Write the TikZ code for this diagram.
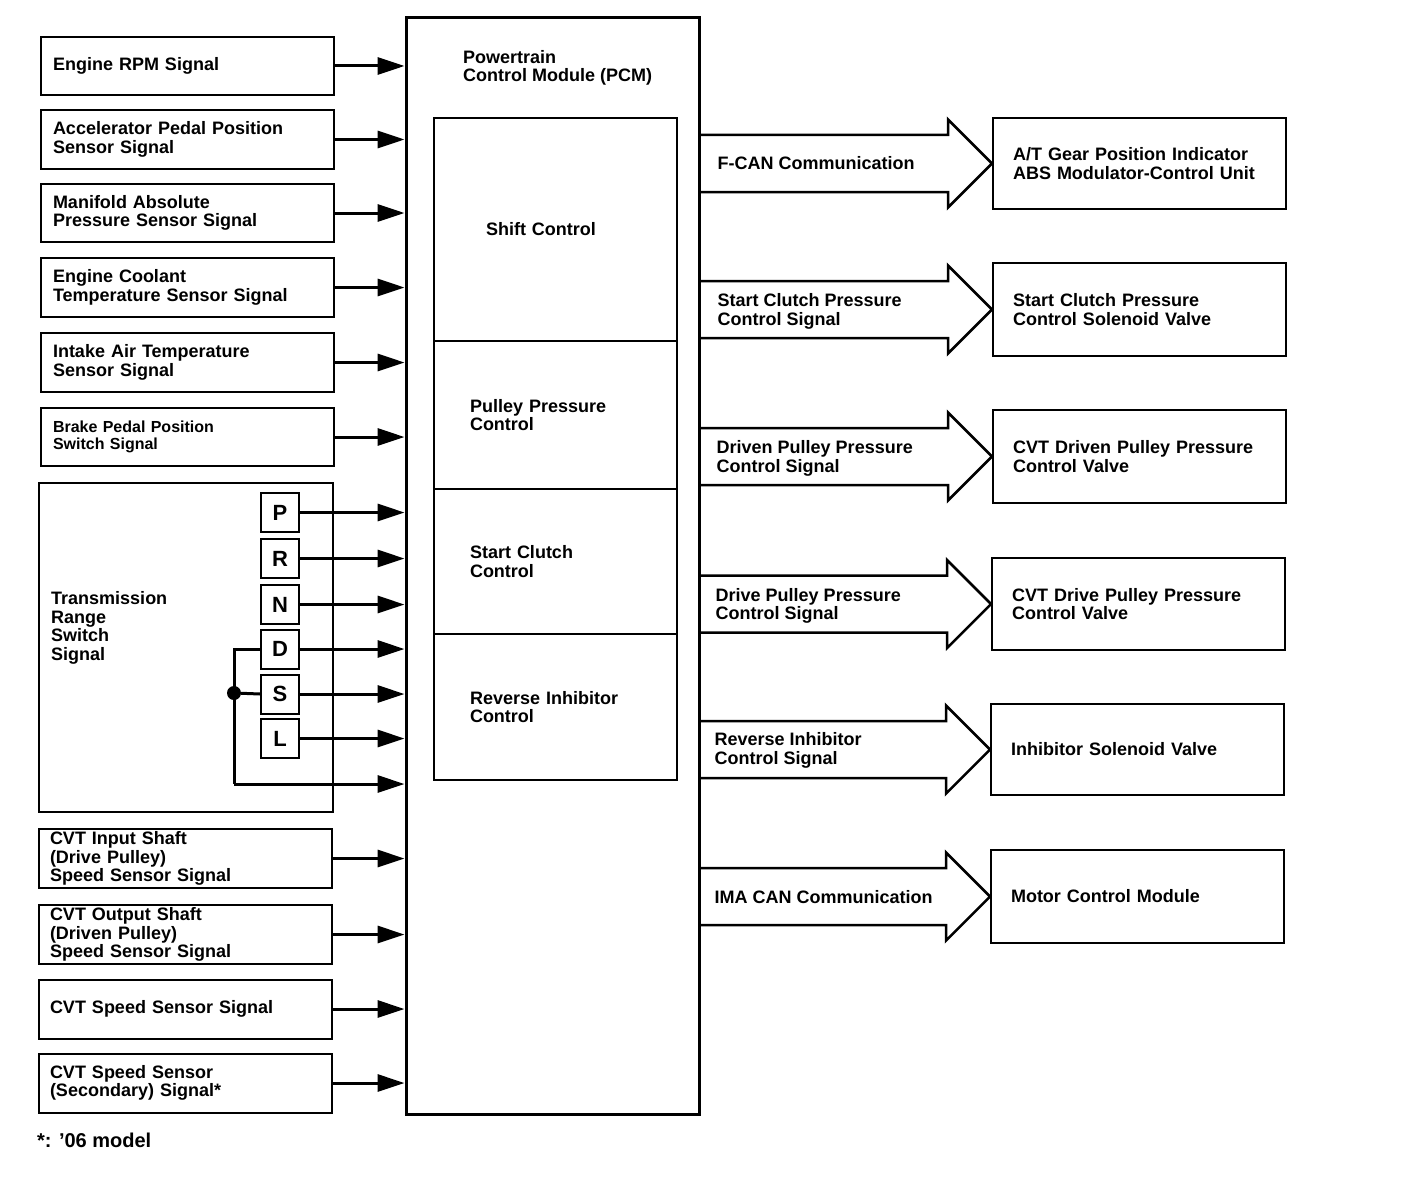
\documentclass[tikz,border=0pt]{standalone}
\usepackage{fontspec}
\setmainfont{Liberation Sans}
\usetikzlibrary{arrows.meta,calc}
\newcommand\blkarrow[1]{%
  \draw[blk] ($(pcm.east |- #1.west)+(0,-28.5)$) -- ($(#1.west)+(-44,-28.5)$)
    -- ($(#1.west)+(-44,-44)$) -- (#1.west) -- ($(#1.west)+(-44,44)$)
    -- ($(#1.west)+(-44,28.5)$) -- ($(pcm.east |- #1.west)+(0,28.5)$);}
\begin{document}
\begin{tikzpicture}[x=1pt,y=-1pt,
  font=\fontsize{18}{18.5}\selectfont\bfseries,
  box/.style={draw, line width=2pt, rectangle, inner ysep=0pt},
  lbox/.style={box, minimum width=293pt, minimum height=58pt, text width=269pt, inner xsep=12pt, align=left},
  cbox/.style={box, minimum width=293pt, minimum height=59pt, text width=271pt, inner xsep=11pt, align=left},
  rbox/.style={box, minimum width=293pt, minimum height=92pt, text width=253pt, inner xsep=20pt, align=left},
  sec/.style={box, minimum width=243pt, text width=171pt, inner xsep=36pt, align=left},
  lett/.style={box, minimum width=38pt, minimum height=39pt, inner sep=0pt, font=\fontsize{22}{22}\selectfont\bfseries},
  sig/.style={line width=3pt, -{Triangle[length=27pt,width=17pt]}},
  sigline/.style={line width=3pt},
  blk/.style={line width=2.5pt, line join=miter},
  txt/.style={anchor=west, inner sep=0pt, align=left, yshift=-2pt}
]
\useasboundingbox[fill=white] (0,0) rectangle (1408,1180);

% PCM
\node[box, line width=3pt, minimum width=293pt, minimum height=1096pt] (pcm) at (552.5,566) {};
\node[txt] (pcmt) at (463,66) {Powertrain\\Control Module (PCM)};
\node[sec, minimum height=223pt, text width=139pt, inner xsep=52pt] (sc) at (555.5,229.5) {Shift Control};
\node[sec, minimum height=148pt] (pp) at (555.5,415) {Pulley Pressure\\Control};
\node[sec, minimum height=145pt] (st) at (555.5,561.5) {Start Clutch\\Control};
\node[sec, minimum height=146pt] (ri) at (555.5,707) {Reverse Inhibitor\\Control};

% left inputs
\node[lbox] (in1) at (187.5,66) {Engine RPM Signal};
\node[lbox] (in2) at (187.5,139.5) {Accelerator Pedal Position\\Sensor Signal};
\node[lbox] (in3) at (187.5,213) {Manifold Absolute\\Pressure Sensor Signal};
\node[lbox, minimum height=59pt] (in4) at (187.5,287.5) {Engine Coolant\\Temperature Sensor Signal};
\node[lbox, minimum height=59pt] (in5) at (187.5,362.5) {Intake Air Temperature\\Sensor Signal};
\node[lbox, font=\fontsize{16}{17}\selectfont\bfseries] (in6) at (187.5,437) {Brake Pedal Position\\Switch Signal};
\node[cbox] (in8) at (185.5,858.5) {CVT Input Shaft\\(Drive Pulley)\\Speed Sensor Signal};
\node[cbox] (in9) at (185.5,934.5) {CVT Output Shaft\\(Driven Pulley)\\Speed Sensor Signal};
\node[cbox] (in10) at (185.5,1009) {CVT Speed Sensor Signal};
\node[cbox] (in11) at (185.5,1083) {CVT Speed Sensor\\(Secondary) Signal*};
\node[txt, font=\fontsize{20}{20}\selectfont\bfseries] (fn) at (37,1138) {*: ’06 model};

\foreach \n in {in1,in2,in3,in4,in5,in6,in8,in9,in10,in11}
  \draw[sig] (\n.east) -- (\n.east -| pcm.west);

% transmission range switch
\node[box, minimum width=294pt, minimum height=329pt] (trs) at (186,647.5) {};
\node[txt] (trst) at (51,626) {Transmission\\Range\\Switch\\Signal};
\node[lett] (P) at (280,512.5) {P};
\node[lett] (R) at (280,558.5) {R};
\node[lett] (N) at (280,604.5) {N};
\node[lett] (D) at (280,649) {D};
\node[lett] (S) at (280,694) {S};
\node[lett] (L) at (280,738.5) {L};
\foreach \n in {P,R,N,D,S,L}
  \draw[sig] (\n.east) -- (\n.east -| pcm.west);
\coordinate (lp) at (234,784);
\node[circle, fill, inner sep=0pt, minimum size=14pt] (dt) at (234,693) {};
\draw[sigline] (D.west) -| (lp);
\draw[sigline] (dt) -- (S.west);
\draw[sig] (lp) -- (lp -| pcm.west);

% right outputs
\node[rbox, minimum height=91pt] (r1) at (1139.5,163.5) {A/T Gear Position Indicator\\ABS Modulator-Control Unit};
\node[rbox, minimum height=93pt] (r2) at (1139.5,309.5) {Start Clutch Pressure\\Control Solenoid Valve};
\node[rbox, minimum height=93pt] (r3) at (1139.5,456.5) {CVT Driven Pulley Pressure\\Control Valve};
\node[rbox] (r4) at (1138.5,604) {CVT Drive Pulley Pressure\\Control Valve};
\node[rbox, minimum height=91pt] (r5) at (1137.5,749.5) {Inhibitor Solenoid Valve};
\node[rbox, minimum height=93pt] (r6) at (1137.5,896.5) {Motor Control Module};

\foreach \n in {r1,r2,r3,r4,r5,r6} {\blkarrow{\n}}

\node[txt] (l1) at ($(pcm.east |- r1.west)+(17,-2)$) {F-CAN Communication};
\node[txt] (l2) at ($(pcm.east |- r2.west)+(17,0)$) {Start Clutch Pressure\\Control Signal};
\node[txt] (l3) at ($(pcm.east |- r3.west)+(16,0)$) {Driven Pulley Pressure\\Control Signal};
\node[txt] (l4) at ($(pcm.east |- r4.west)+(15,0)$) {Drive Pulley Pressure\\Control Signal};
\node[txt] (l5) at ($(pcm.east |- r5.west)+(14,-1)$) {Reverse Inhibitor\\Control Signal};
\node[txt] (l6) at ($(pcm.east |- r6.west)+(14,-1)$) {IMA CAN Communication};
\end{tikzpicture}
\end{document}
